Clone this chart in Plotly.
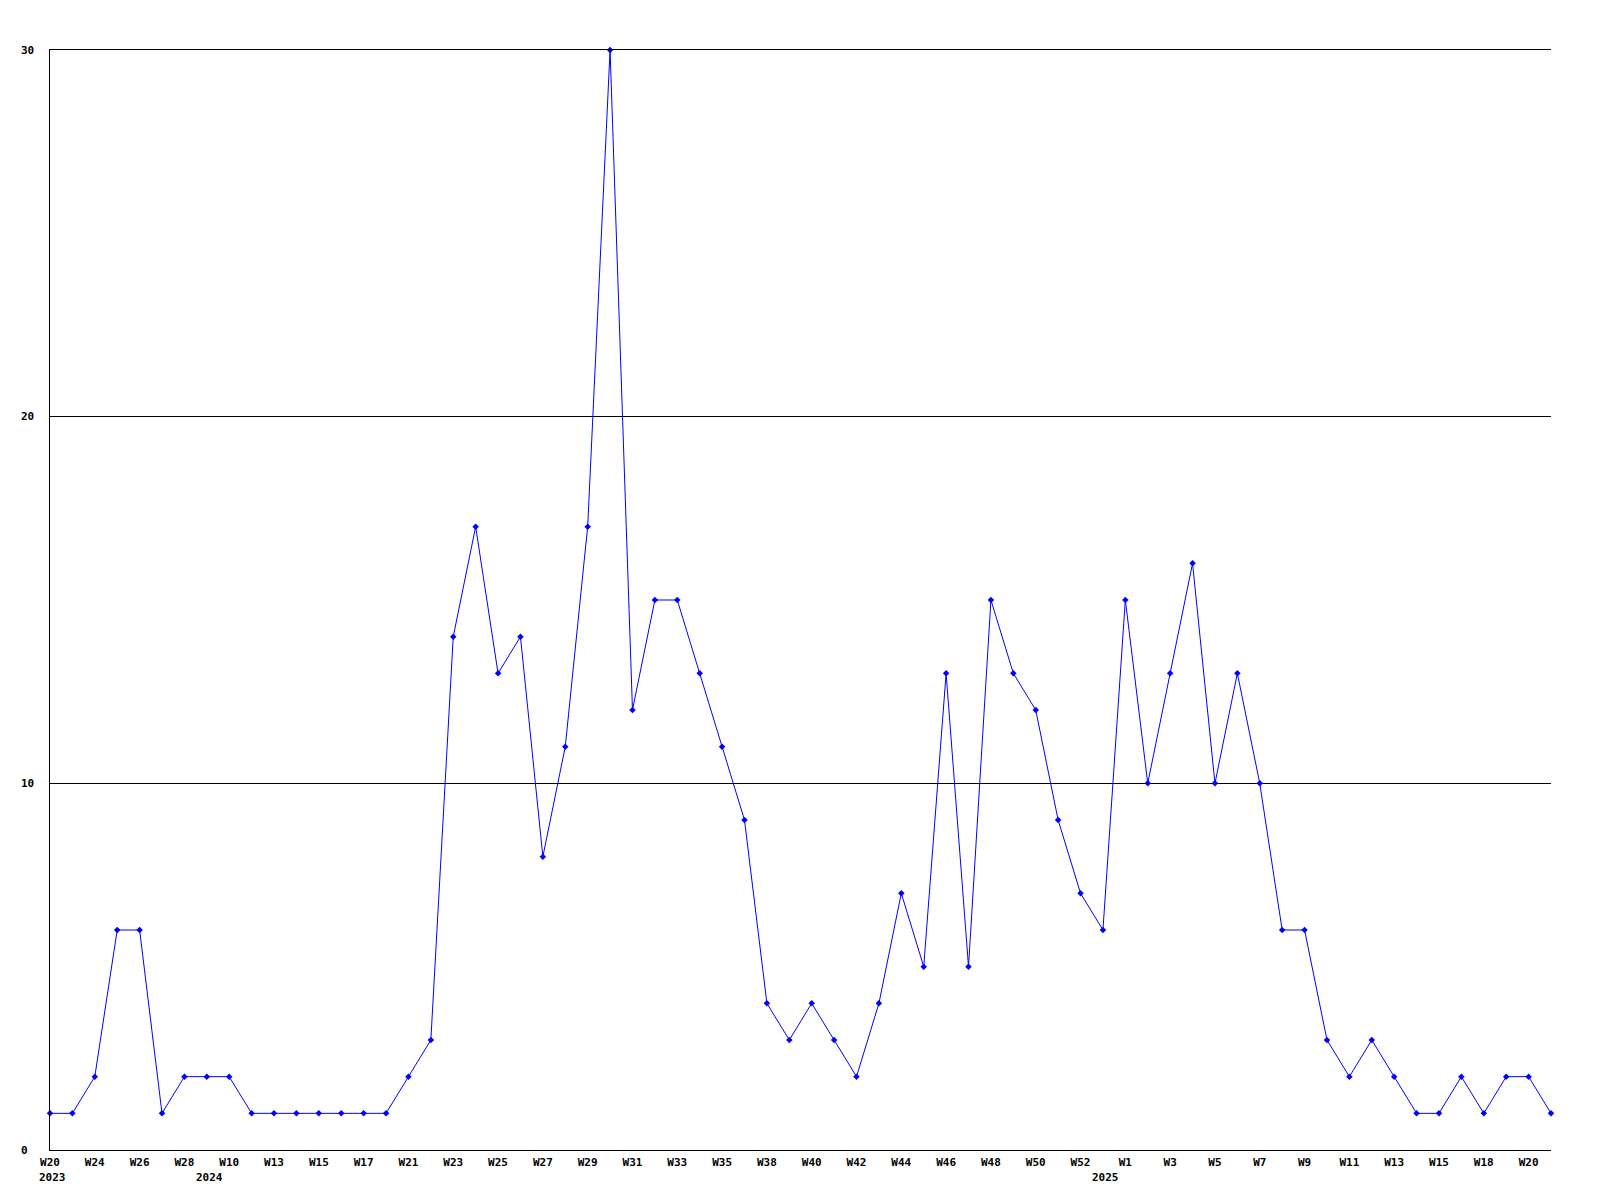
import plotly.graph_objects as go

# Week categories (every other one is labelled on the axis)
weeks = [
    "2023-W20", "2023-W22", "2023-W24", "2023-W25", "2023-W26", "2023-W27", "2023-W28",
    "2024-W09", "2024-W10", "2024-W12", "2024-W13", "2024-W14", "2024-W15", "2024-W16",
    "2024-W17", "2024-W19", "2024-W21", "2024-W22", "2024-W23", "2024-W24", "2024-W25",
    "2024-W26", "2024-W27", "2024-W28", "2024-W29", "2024-W30", "2024-W31", "2024-W32",
    "2024-W33", "2024-W34", "2024-W35", "2024-W37", "2024-W38", "2024-W39", "2024-W40",
    "2024-W41", "2024-W42", "2024-W43", "2024-W44", "2024-W45", "2024-W46", "2024-W47",
    "2024-W48", "2024-W49", "2024-W50", "2024-W51", "2024-W52", "2024-W53", "2025-W01",
    "2025-W02", "2025-W03", "2025-W04", "2025-W05", "2025-W06", "2025-W07", "2025-W08",
    "2025-W09", "2025-W10", "2025-W11", "2025-W12", "2025-W13", "2025-W14", "2025-W15",
    "2025-W17", "2025-W18", "2025-W19", "2025-W20", "2025-W21",
]

values = [
    1, 1, 2, 6, 6, 1, 2, 2, 2, 1, 1, 1, 1, 1, 1, 1, 2, 3, 14, 17, 13, 14, 8, 11,
    17, 30, 12, 15, 15, 13, 11, 9, 4, 3, 4, 3, 2, 4, 7, 5, 13, 5, 15, 13, 12, 9,
    7, 6, 15, 10, 13, 16, 10, 13, 10, 6, 6, 3, 2, 3, 2, 1, 1, 2, 1, 2, 2, 1,
]

tick_labels = [
    "W20", "W24", "W26", "W28", "W10", "W13", "W15", "W17", "W21", "W23", "W25",
    "W27", "W29", "W31", "W33", "W35", "W38", "W40", "W42", "W44", "W46", "W48",
    "W50", "W52", "W1", "W3", "W5", "W7", "W9", "W11", "W13", "W15", "W18", "W20",
]
tick_positions = weeks[::2]

year_labels = ["2023", "2024", "2025"]
year_positions = ["2023-W20", "2024-W09", "2024-W53"]

y_ticks = [0, 10, 20, 30]

FONT = "DejaVu Sans Mono"

fig = go.Figure()
fig.add_trace(go.Scatter(
    x=weeks, y=values, mode="lines+markers",
    line=dict(color="#0000ff", width=1),
    marker=dict(symbol="diamond", size=5, color="#0000ff"),
    cliponaxis=False, showlegend=False,
))

annotations = []
for lab, pos in zip(year_labels, year_positions):
    annotations.append(dict(
        x=pos, xref="x", y=0, yref="paper", text=lab, showarrow=False,
        xanchor="left", yanchor="middle", xshift=-13, yshift=-27,
        font=dict(family=FONT, size=11, color="black", weight="bold"),
    ))
for v in y_ticks:
    annotations.append(dict(
        x=0, xref="paper", y=v, yref="y", text=str(v), showarrow=False,
        xanchor="left", yanchor="middle", xshift=-31,
        font=dict(family=FONT, size=11, color="black", weight="bold"),
    ))

fig.update_layout(
    width=1600, height=1200,
    margin=dict(l=50, r=49, t=50, b=50),
    paper_bgcolor="white", plot_bgcolor="white",
    annotations=annotations,
    xaxis=dict(
        type="category", categoryorder="array", categoryarray=weeks,
        range=[0, len(weeks) - 1],
        tickmode="array", tickvals=tick_positions, ticktext=tick_labels,
        tickangle=0,
        showgrid=False, showline=True, mirror=True, linecolor="black", linewidth=1,
        ticks="", ticklabelstandoff=2,
        tickfont=dict(family=FONT, size=11, color="black", weight="bold"),
        zeroline=False,
    ),
    yaxis=dict(
        range=[0, 30], tickvals=y_ticks, showticklabels=False,
        showgrid=True, gridcolor="black", gridwidth=1,
        showline=True, linecolor="black", linewidth=1,
        ticks="", zeroline=False,
    ),
)

fig.write_html(
    "out.html",
    config={"displayModeBar": False},
    post_script="document.body.style.margin='0';",
)
